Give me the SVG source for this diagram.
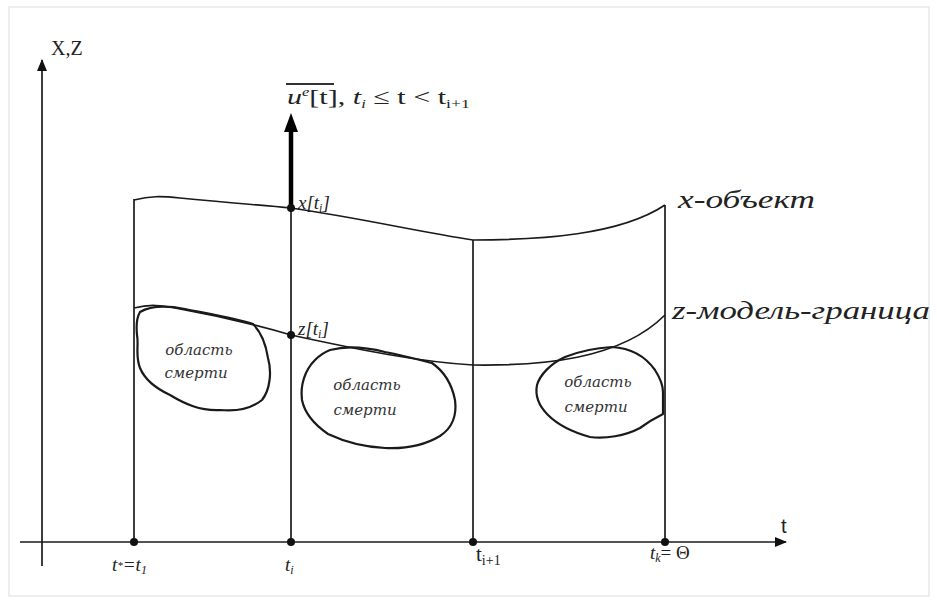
<svg xmlns="http://www.w3.org/2000/svg" width="937" height="606" viewBox="0 0 937 606">
<defs>
<style>
.ln{fill:none;stroke:#1a1a1a;stroke-width:1.7}
.bl{fill:none;stroke:#1a1a1a;stroke-width:2.2;stroke-linejoin:round}
.it{font-family:"Liberation Serif","DejaVu Serif",serif;font-style:italic;fill:#222}
.bt{font-family:"DejaVu Serif","Liberation Serif",serif;font-style:italic;font-size:15px;fill:#333}
.sn{font-family:"Liberation Sans","DejaVu Sans",sans-serif;fill:#222}
.sf{font-family:"Liberation Serif","DejaVu Serif",serif;fill:#222}
.dot{fill:#111}
</style>
<marker id="ah" markerWidth="12" markerHeight="10" refX="11" refY="5" orient="auto" markerUnits="userSpaceOnUse">
<path d="M0,0 L12,5 L0,10 Z" fill="#111"/>
</marker>
</defs>
<rect width="937" height="606" fill="#fff"/>
<rect x="9" y="7" width="920" height="589" fill="none" stroke="#ddd" stroke-width="1"/>

<g id="connectors">
<line class="ln" x1="42" y1="566" x2="42" y2="60" marker-end="url(#ah)"/>
<line class="ln" x1="20" y1="542" x2="786" y2="542" marker-end="url(#ah)"/>
<line class="ln" x1="134" y1="542" x2="134" y2="199"/>
<line class="ln" x1="291" y1="542" x2="291" y2="208"/>
<line class="ln" x1="473" y1="542" x2="473" y2="240"/>
<line class="ln" x1="665" y1="542" x2="665" y2="205"/>
<line x1="291" y1="208" x2="291" y2="130" stroke="#000" stroke-width="4.5"/>
<path d="M284,132 L291,113 L298,132 Z" fill="#000"/>
</g>

<g id="x-object">
<path class="ln" d="M134,200 C150,196 160,196 180,198 C230,203 260,205 291,208 C360,218 420,232 473,240 C540,240 620,235 665,205"/>
<circle class="dot" cx="291" cy="208" r="4"/>
<text class="it" x="298" y="209" font-size="19">x[t<tspan font-size="12" dy="3">i</tspan><tspan dy="-3">]</tspan></text>
<text class="it" x="678" y="208" font-size="26" textLength="137" lengthAdjust="spacingAndGlyphs">x-объект</text>
</g>

<g id="z-model">
<path class="ln" d="M134,308 C150,304 160,305 180,309 C230,318 260,326 291,335 C360,350 420,362 473,365 C540,366 620,360 665,315"/>
<circle class="dot" cx="291" cy="335" r="4"/>
<text class="it" x="298" y="335" font-size="19">z[t<tspan font-size="12" dy="3">i</tspan><tspan dy="-3">]</tspan></text>
<text class="it" x="672" y="319" font-size="26" textLength="258" lengthAdjust="spacingAndGlyphs">z-модель-граница</text>
</g>

<g id="control">
<line x1="286" y1="84" x2="334" y2="84" stroke="#333" stroke-width="1.8"/>
<text class="it" x="287" y="104" font-size="22" textLength="183" lengthAdjust="spacingAndGlyphs">u<tspan font-size="12" dy="-8">e</tspan><tspan dy="8" font-style="normal">[t],</tspan><tspan> t</tspan><tspan font-size="12" dy="4">i</tspan><tspan dy="-4" font-style="normal"> ≤ t &lt; t</tspan><tspan font-size="13" dy="4" font-style="normal">i+1</tspan></text>
</g>

<g id="blob1">
<path class="bl" d="M140,312 C150,306 165,305 185,309 C210,314 235,318 253,324 C262,333 266,345 268,358 C272,372 270,390 262,400 C252,408 240,412 220,410 C200,411 185,404 170,395 C155,388 145,380 140,368 C135,355 139,345 137,335 C136,325 137,317 140,312 Z"/>
<text class="bt" x="199" y="355" text-anchor="middle">область</text>
<text class="bt" x="196" y="378" text-anchor="middle">смерти</text>
</g>

<g id="blob2">
<path class="bl" d="M330,350 C345,346 365,347 385,352 C405,356 420,360 432,363 C445,372 452,385 455,400 C457,415 452,428 440,436 C425,445 405,449 385,448 C365,447 345,442 328,434 C315,425 305,415 302,400 C300,385 305,370 315,360 C320,355 325,352 330,350 Z"/>
<text class="bt" x="367" y="390" text-anchor="middle">область</text>
<text class="bt" x="365" y="415" text-anchor="middle">смерти</text>
</g>

<g id="blob3">
<path class="bl" d="M565,357 C580,351 595,348 612,347 C630,348 645,356 655,370 C660,378 663,385 663,392 L663,414 C655,418 648,422 640,428 C625,436 605,439 590,437 C572,432 558,425 548,415 C538,405 535,395 537,385 C540,375 550,364 565,357 Z"/>
<text class="bt" x="598" y="387" text-anchor="middle">область</text>
<text class="bt" x="596" y="412" text-anchor="middle">смерти</text>
</g>

<g id="axis-labels">
<text class="sf" x="51" y="55" font-size="20">X,Z</text>
<text class="sn" x="781" y="533" font-size="20">t</text>
<circle class="dot" cx="134" cy="542" r="4"/>
<circle class="dot" cx="291" cy="542" r="4"/>
<circle class="dot" cx="473" cy="542" r="4"/>
<circle class="dot" cx="665" cy="542" r="4"/>
<text class="it" x="112" y="571" font-size="19">t<tspan font-size="11" dy="-2">*</tspan><tspan dy="2">=t</tspan><tspan font-size="12" dy="3">1</tspan></text>
<text class="it" x="285" y="571" font-size="19">t<tspan font-size="12" dy="3">i</tspan></text>
<text class="sf" x="476" y="561" font-size="21">t<tspan font-size="14" dy="4">i+1</tspan></text>
<text class="it" x="650" y="559" font-size="19">t<tspan font-size="12" dy="3">k</tspan><tspan dy="-3" font-style="normal">= Θ</tspan></text>
</g>
</svg>
